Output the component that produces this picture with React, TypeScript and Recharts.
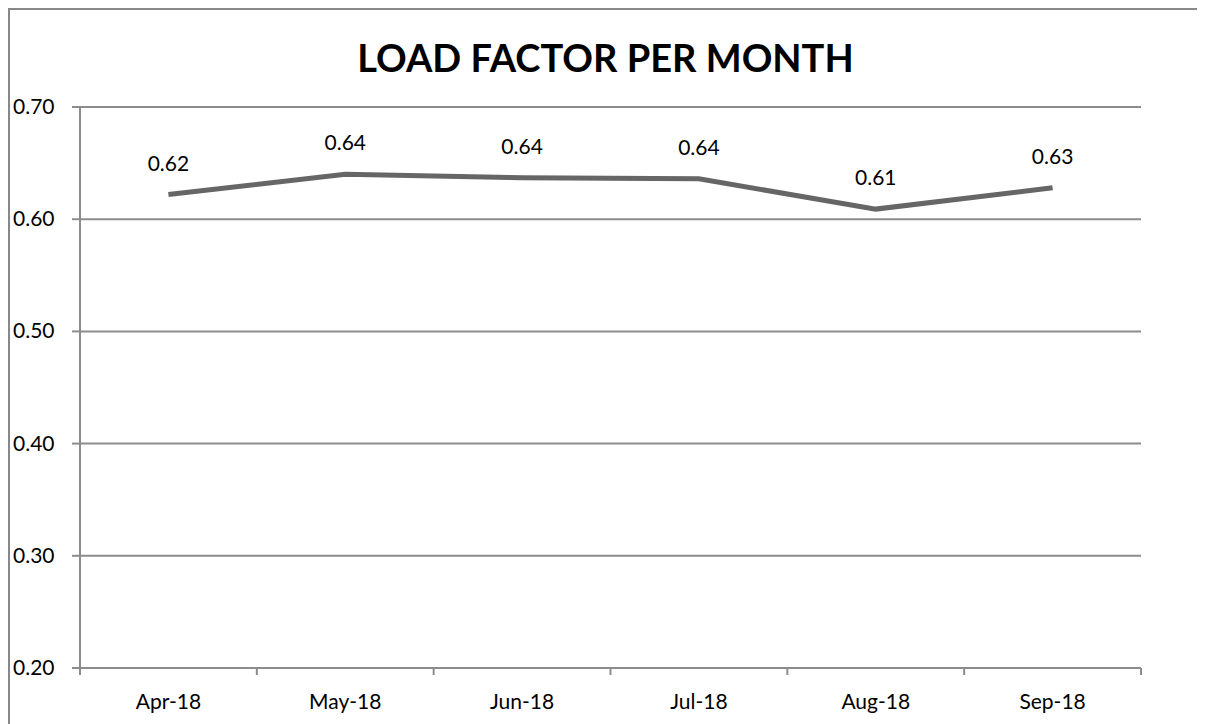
import { LineChart, Line, XAxis, YAxis, CartesianGrid, LabelList } from 'recharts';

const months = ['Apr-18', 'May-18', 'Jun-18', 'Jul-18', 'Aug-18', 'Sep-18'];
const loadFactor = [0.622, 0.640, 0.637, 0.636, 0.609, 0.628];
const yTicks = [0.2, 0.3, 0.4, 0.5, 0.6, 0.7];

const data = months.map((m, i) => ({ month: m, lf: loadFactor[i] }));

const FONT = 'Lato, "Open Sans", sans-serif';
const AXIS = '#8c8c8c';

function YTick(props: any) {
  const { y, payload } = props;
  return (
    <text x={5} y={y} dy={7} textAnchor="start" fontSize={21} fontFamily={FONT} fill="#000">
      {Number(payload.value).toFixed(2)}
    </text>
  );
}

function XTick(props: any) {
  const { x, y, payload, index } = props;
  const half = payload.offset || 88.4;
  return (
    <g>
      <line x1={x - half} x2={x - half} y1={y - 8} y2={y - 1} stroke={AXIS} strokeWidth={2} />
      {index === months.length - 1 && (
        <line x1={x + half} x2={x + half} y1={y - 8} y2={y - 1} stroke={AXIS} strokeWidth={2} />
      )}
      <text x={x} y={y} dy={33} textAnchor="middle" fontSize={21} fontFamily={FONT} fill="#000">
        {payload.value}
      </text>
    </g>
  );
}

export default function App() {
  return (
    <div style={{ position: 'relative', width: 1195, height: 716 }}>
      <div
        style={{
          position: 'absolute', left: 0, top: 0, width: 1195, height: 740,
          border: '2px solid #888', boxSizing: 'border-box', pointerEvents: 'none',
        }}
      />
      <div
        style={{
          position: 'absolute', left: 0, top: 26, width: 1195, textAlign: 'center',
          fontFamily: FONT, fontWeight: 700, fontSize: 38, color: '#000',
        }}
      >
        LOAD FACTOR PER MONTH
      </div>
      <LineChart width={1195} height={716} data={data} margin={{ top: 99, right: 62, bottom: 0, left: 0 }}>
        <CartesianGrid vertical={false} stroke={AXIS} strokeWidth={2} />
        <XAxis
          dataKey="month"
          scale="band"
          height={56}
          axisLine={{ stroke: AXIS, strokeWidth: 2 }}
          tickLine={false}
          tick={<XTick />}
          interval={0}
        />
        <YAxis
          width={72}
          domain={[0.2, 0.7]}
          ticks={yTicks}
          axisLine={{ stroke: AXIS, strokeWidth: 2 }}
          tickLine={{ stroke: AXIS, strokeWidth: 2 }}
          tickSize={8}
          tick={<YTick />}
        />
        <Line
          type="linear"
          dataKey="lf"
          stroke="#666"
          strokeWidth={5}
          dot={false}
          isAnimationActive={false}
        >
          <LabelList
            dataKey="lf"
            position="top"
            offset={24}
            formatter={(v: any) => Number(v).toFixed(2)}
            style={{ fontSize: 21, fontFamily: FONT, fill: '#000' }}
          />
        </Line>
      </LineChart>
    </div>
  );
}
